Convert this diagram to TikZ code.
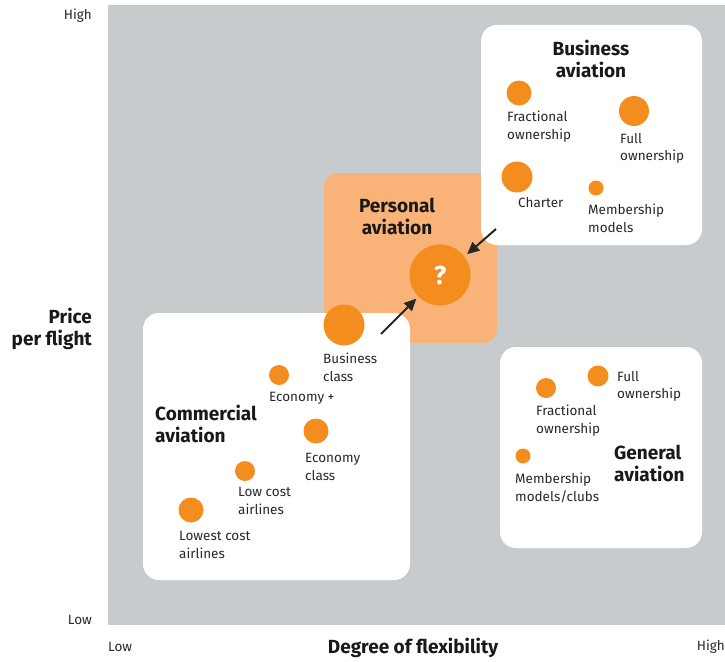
\documentclass[tikz,border=0pt]{standalone}
\usepackage{fontspec}
\setmainfont{Fira Sans}
\usepackage{tikz}
\usetikzlibrary{arrows.meta}

\definecolor{panelgray}{RGB}{200,203,205}
\definecolor{dotorange}{RGB}{243,142,30}
\definecolor{paleorange}{RGB}{249,178,120}
\definecolor{labelgray}{RGB}{40,40,40}

\tikzset{
    segbox/.style={fill=white,rounded corners=16pt},
    dot/.style={circle,fill=dotorange,inner sep=0pt,minimum size=#1},
    lbl/.style={anchor=north west,align=left,inner sep=0pt,text=labelgray,
        font=\fontsize{13.5}{17.5}\selectfont},
    ttl/.style={inner sep=0pt,align=center,text=black!90,
        font=\fontsize{19}{21.5}\selectfont\bfseries},
    axis/.style={inner sep=0pt,text=labelgray,font=\fontsize{13.5}{15}\selectfont},
    pointer/.style={-{Triangle[length=12pt,width=11pt]},line width=2pt,black!85}
}

\begin{document}
\begin{tikzpicture}[x=1pt,y=-1pt]
            \useasboundingbox (0,0) rectangle (725,661);
            \fill[panelgray] (108,5) rectangle (725,625);
            % personal aviation sits under the segment boxes
            \fill[paleorange,rounded corners=14pt] (324,173) rectangle (497,343);
            \fill[segbox] (143,313) rectangle (410,580);
            \fill[segbox] (481,25) rectangle (702,245);
            \fill[segbox] (500,347) rectangle (702,548);

            % commercial aviation
            \node[ttl,anchor=north west,align=left] (comm) at (155,405) {Commercial\\aviation};
            \node[dot=41pt] (busclass) at (344,325) {};
            \node[lbl] at (323,353) {Business\\class};
            \node[dot=20pt] (econplus) at (279,375) {};
            \node[lbl] at (269,392) {Economy +};
            \node[dot=25pt] (econ) at (316,431) {};
            \node[lbl] at (305,453) {Economy\\class};
            \node[dot=20pt] (lowcost) at (245,471) {};
            \node[lbl] at (238,487) {Low cost\\airlines};
            \node[dot=25pt] (lowest) at (191,510) {};
            \node[lbl] at (179,531) {Lowest cost\\airlines};

            % business aviation
            \node[ttl,anchor=north] (busi) at (591,40) {Business\\aviation};
            \node[dot=25pt] (fracb) at (519,93) {};
            \node[lbl] at (507,111) {Fractional\\ownership};
            \node[dot=30pt] (fullb) at (634,111) {};
            \node[lbl] at (620,133) {Full\\ownership};
            \node[dot=31pt] (charter) at (517,177) {};
            \node[lbl] at (518,197) {Charter};
            \node[dot=15pt] (memb) at (596,188) {};
            \node[lbl] at (588,204) {Membership\\models};

            % general aviation
            \node[ttl,anchor=north west,align=left] (gen) at (614,445) {General\\aviation};
            \node[dot=20pt] (fracg) at (546,388) {};
            \node[lbl] at (536,405) {Fractional\\ownership};
            \node[dot=21pt] (fullg) at (598,376) {};
            \node[lbl] at (617,371) {Full\\ownership};
            \node[dot=15pt] (membg) at (523,456) {};
            \node[lbl] at (515,473) {Membership\\models/clubs};

            % personal aviation
            \node[ttl,anchor=north] (pers) at (397,198) {Personal\\aviation};
            \node[dot=61pt,text=white,font=\fontsize{26}{26}\selectfont\bfseries] (quest) at (440,275) {?};
            \coordinate (lowend) at (381,334);
            \coordinate (highend) at (496,229);
            \draw[pointer] (lowend) -- ([shift={(-2,2)}]quest.225);
            \draw[pointer] (highend) -- ([shift={(3,-2)}]quest.38);

            % axes
            \node[axis,anchor=east] (yhigh) at (92,16) {High};
            \node[axis,anchor=east] (ylow) at (92,620) {Low};
            \node[ttl,anchor=east,align=right] (ytitle) at (92,329) {Price\\per flight};
            \node[axis,anchor=west] (xlow) at (108,647) {Low};
            \node[ttl] (xtitle) at (413,648) {Degree of flexibility};
            \node[axis,anchor=east] (xhigh) at (725,647) {High};
        \end{tikzpicture}
\end{document}
